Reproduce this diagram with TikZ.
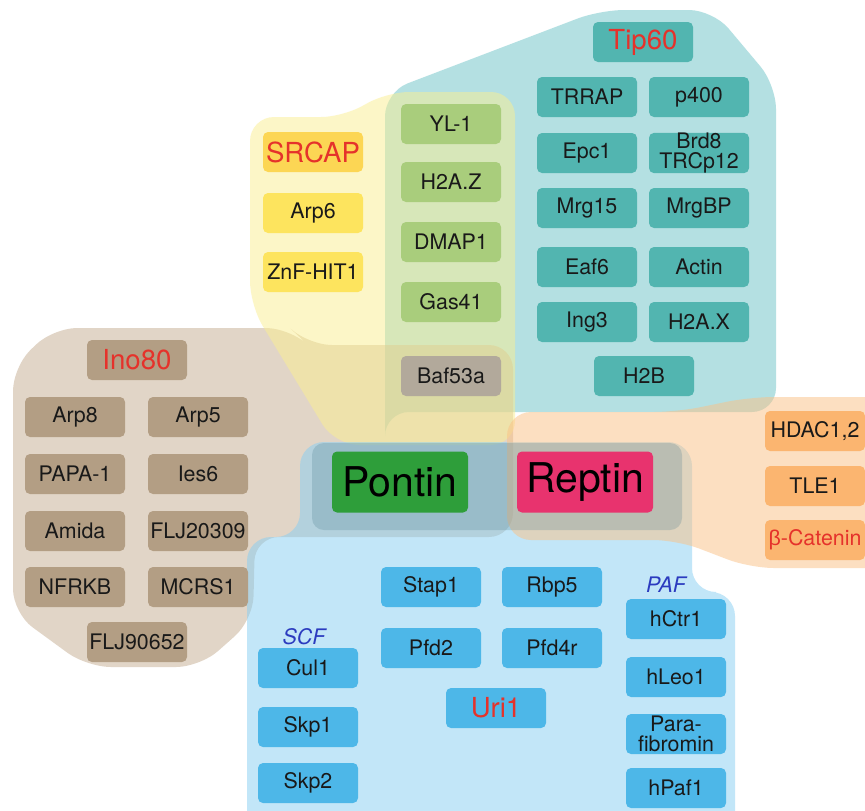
\documentclass[tikz,border=0pt]{standalone}
\usepackage{fontspec}
\setmainfont{TeX Gyre Heros}
\newfontfamily\greekfont{Liberation Sans}
\newcommand\boxfont{\fontsize{10.7}{10}\selectfont}
\newcommand\ttlfont{\fontsize{13.8}{13.8}\selectfont}
\newcommand\bigfont{\fontsize{20.5}{20.5}\selectfont}
\newcommand\cplxfont{\fontsize{10.7}{10.7}\selectfont\itshape}
\definecolor{tipbg}{HTML}{6BC3C7}
\definecolor{srcbg}{HTML}{FBEF91}
\definecolor{inobg}{HTML}{C5AD91}
\definecolor{uribg}{HTML}{87CFF3}
\definecolor{catbg}{HTML}{FBC185}
\definecolor{corebg}{HTML}{4F7F8F}
\definecolor{tipcol}{HTML}{52B5B0}
\definecolor{srccol}{HTML}{FDE45E}
\definecolor{srchead}{HTML}{FCD654}
\definecolor{sharedcol}{HTML}{A9CD7C}
\definecolor{bafcol}{HTML}{B2A99B}
\definecolor{inocol}{HTML}{B39E84}
\definecolor{uricol}{HTML}{4DB7E8}
\definecolor{catcol}{HTML}{FBB570}
\definecolor{pontincol}{HTML}{2E9E3A}
\definecolor{reptincol}{HTML}{E8336E}
\definecolor{titlered}{HTML}{E5322B}
\definecolor{cplxblue}{HTML}{2B3BBF}
\begin{document}
\begin{tikzpicture}[x=0.5pt,y=-0.5pt,
    region/.style={fill opacity=.5, rounded corners=12pt},
    box/.style={rounded corners=2.5pt, minimum width=50pt, minimum height=20pt,
        inner sep=0pt, align=center, font=\boxfont, text=black!90},
    tipbox/.style={box, fill=tipcol},
    srcbox/.style={box, fill=srccol},
    sharedbox/.style={box, fill=sharedcol},
    inobox/.style={box, fill=inocol},
    uribox/.style={box, fill=uricol},
    catbox/.style={box, fill=catcol},
    corebox/.style={box, minimum width=68pt, minimum height=30.5pt, font=\bigfont, text=black},
    title/.style={text=titlered, font=\ttlfont},
    cplxname/.style={text=cplxblue, font=\cplxfont, inner sep=0pt}]
    \useasboundingbox (0,0) rectangle (865,810);
    \fill[white] (0,0) rectangle (865,810);
    \clip (0,0) rectangle (865,810);
    \fill[region, tipbg] (385,420) -- (385,92) -- (600,10) -- (713,10) -- (776,85) -- (776,412) -- (385,412) -- cycle;
    \fill[region, inobg] (13,367) -- (53,328) -- (290,328) -- (308,345) -- (513,345) -- (513,537)
        -- (255,537) -- (253,620) -- (200,667) -- (87,667) -- (13,613) -- cycle;
    \fill[region, srcbg] (250,305) -- (250,117) -- (345,117) -- (385,92) -- (515,92) -- (515,445) -- (335,445) -- cycle;
    \fill[region, uribg] (300,442) -- (692,442) -- (692,592) -- (735,592) -- (735,840) -- (247,840)
        -- (247,537) -- (300,537) -- cycle;
    \fill[region, catbg] (507,412) -- (677,412) -- (750,397) -- (900,397) -- (900,568) -- (750,568)
        -- (677,540) -- (507,540) -- cycle;
    \fill[corebg, fill opacity=.25, rounded corners=6pt] (312,443) rectangle (682,530);

    \node[tipbox, title] (tip60) at (643,42) {Tip60};
    \node[tipbox] (trrap) at (587,97) {TRRAP};
    \node[tipbox] (p400) at (699,97) {p400};
    \node[tipbox] (epc1) at (587,153) {Epc1};
    \node[tipbox] (brd8) at (699,153) {Brd8\\TRCp12};
    \node[tipbox] (mrg15) at (587,208) {Mrg15};
    \node[tipbox] (mrgbp) at (699,208) {MrgBP};
    \node[tipbox] (eaf6) at (587,267) {Eaf6};
    \node[tipbox] (actin) at (699,267) {Actin};
    \node[tipbox] (ing3) at (587,322) {Ing3};
    \node[tipbox] (h2ax) at (699,322) {H2A.X};
    \node[tipbox] (h2b) at (644,376) {H2B};

    \node[sharedbox] (yl1) at (451,124) {YL-1};
    \node[sharedbox] (h2az) at (451,182) {H2A.Z};
    \node[sharedbox] (dmap1) at (451,242) {DMAP1};
    \node[sharedbox] (gas41) at (451,302) {Gas41};
    \node[box, fill=bafcol] (baf53a) at (451,376) {Baf53a};

    \node[box, fill=srchead, title] (srcap) at (313,152) {SRCAP};
    \node[srcbox] (arp6) at (313,213) {Arp6};
    \node[srcbox] (znfhit1) at (313,272) {ZnF-HIT1};

    \node[inobox, title] (ino80) at (137,360) {Ino80};
    \node[inobox] (arp8) at (75,417) {Arp8};
    \node[inobox] (arp5) at (198,417) {Arp5};
    \node[inobox] (papa1) at (75,474) {PAPA-1};
    \node[inobox] (ies6) at (198,474) {Ies6};
    \node[inobox] (amida) at (75,531) {Amida};
    \node[inobox] (flj20309) at (198,531) {FLJ20309};
    \node[inobox] (nfrkb) at (75,587) {NFRKB};
    \node[inobox] (mcrs1) at (198,587) {MCRS1};
    \node[inobox] (flj90652) at (137,642) {FLJ90652};

    \node[corebox, fill=pontincol] (pontin) at (400,482) {Pontin};
    \node[corebox, fill=reptincol] (reptin) at (585,482) {Reptin};

    \node[catbox] (hdac) at (815,431) {HDAC1,2};
    \node[catbox] (tle1) at (815,486) {TLE1};
    \node[catbox, text=titlered] (bcat) at (815,540) {{\greekfont β}-Catenin};

    \node[uribox] (stap1) at (431,587) {Stap1};
    \node[uribox] (rbp5) at (552,587) {Rbp5};
    \node[uribox] (pfd2) at (431,648) {Pfd2};
    \node[uribox] (pfd4r) at (552,648) {Pfd4r};
    \node[uribox, title] (uri1) at (496,708) {Uri1};
    \node[cplxname] (scf) at (304,637) {SCF};
    \node[uribox] (cul1) at (308,668) {Cul1};
    \node[uribox] (skp1) at (308,727) {Skp1};
    \node[uribox] (skp2) at (308,783) {Skp2};
    \node[cplxname] (paf) at (666,585) {PAF};
    \node[uribox] (hctr1) at (676,619) {hCtr1};
    \node[uribox] (hleo1) at (676,677) {hLeo1};
    \node[uribox] (parafib) at (676,734) {Para-\\fibromin};
    \node[uribox] (hpaf1) at (676,788) {hPaf1};
\end{tikzpicture}
\end{document}
